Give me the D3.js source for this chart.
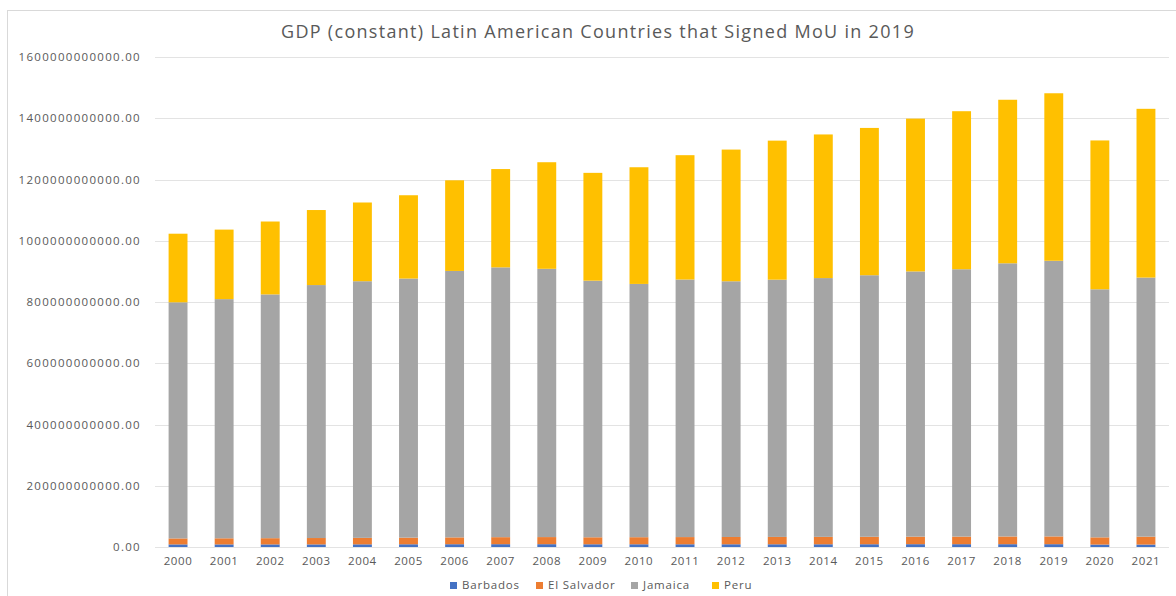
<!DOCTYPE html>
<html>
<head>
<meta charset="utf-8">
<script src="https://cdn.jsdelivr.net/npm/d3@7"></script>
<style>
  body { margin: 0; background: #fff; }
  svg text { font-family: "Open Sans", sans-serif; fill: #595959; }
</style>
</head>
<body>
<div id="chart"></div>
<script>
// data (billions, constant local currency)
var years = ["2000","2001","2002","2003","2004","2005","2006","2007","2008","2009","2010",
             "2011","2012","2013","2014","2015","2016","2017","2018","2019","2020","2021"]
var barbados   = [8.5, 8.5, 8.5, 8.5, 8.7, 8.9, 9.1, 9.2, 9.2, 8.9, 8.9, 8.9, 8.9, 8.9, 8.9, 9.0, 9.2, 9.2, 9.2, 9.2, 8.0, 8.0]
var elSalvador = [19.5, 19.9, 20.3, 20.8, 21.2, 21.7, 22.3, 22.9, 23.2, 22.8, 23.1, 23.5, 23.8, 24.0, 24.2, 24.4, 24.6, 24.8, 25.2, 25.4, 23.5, 25.8]
var jamaica    = [771, 781, 796, 826, 838, 846, 870, 881, 876, 838, 827, 841, 835, 840, 845, 854, 866, 873, 892, 900, 810, 846]
var peru       = [224, 227, 238, 245, 257, 272, 296, 321, 348, 352, 381, 406, 430, 454, 469, 481, 499, 516, 534, 547, 486, 551]
var seriesNames = ["Barbados", "El Salvador", "Jamaica", "Peru"]
var colors = ["#4472C4", "#ED7D31", "#A5A5A5", "#FFC000"]
var yTicks = [0, 200, 400, 600, 800, 1000, 1200, 1400, 1600]

var W = 1176, H = 596
var margin = {left: 155, right: 1169, top: 57, bottom: 547}

var svg = d3.select("#chart").append("svg")
    .attr("width", W)
    .attr("height", H)

// chart frame
svg.append("rect")
    .attr("x", 7.5).attr("y", 10.5)
    .attr("width", 1180).attr("height", 600)
    .style("fill", "white")
    .style("stroke", "#d9d9d9")

// title
svg.append("text")
    .attr("x", 598)
    .attr("y", 38)
    .attr("text-anchor", "middle")
    .style("font-size", "18px")
    .style("letter-spacing", "1.3px")
    .text("GDP (constant) Latin American Countries that Signed MoU in 2019")

var x = d3.scaleBand()
    .domain(years)
    .range([margin.left, margin.right])
    .paddingInner(0.59)
    .paddingOuter(0.295)

var y = d3.scaleLinear()
    .domain([0, 1600])
    .range([margin.bottom, margin.top])

// gridlines
svg.append("g").selectAll("line")
    .data(yTicks)
    .enter().append("line")
    .attr("x1", margin.left).attr("x2", margin.right)
    .attr("y1", d => Math.round(y(d)) + 0.5)
    .attr("y2", d => Math.round(y(d)) + 0.5)
    .style("stroke", "#e3e3e3")
    .style("stroke-width", 1)

// y labels
svg.append("g").selectAll("text")
    .data(yTicks)
    .enter().append("text")
    .attr("x", 141)
    .attr("y", d => y(d) + 4)
    .attr("text-anchor", "end")
    .style("font-size", "11.5px")
    .style("letter-spacing", "1.3px")
    .text(d => d3.format(".2f")(d * 1e9))

// stack
var rows = years.map(function(yr, i) {
    return {year: yr, "Barbados": barbados[i], "El Salvador": elSalvador[i], "Jamaica": jamaica[i], "Peru": peru[i]}
})
var stacked = d3.stack().keys(seriesNames)(rows)

svg.append("g").selectAll("g")
    .data(stacked)
    .enter().append("g")
    .style("fill", (d, i) => colors[i])
    .selectAll("rect")
    .data(d => d)
    .enter().append("rect")
    .attr("x", d => x(d.data.year))
    .attr("width", x.bandwidth())
    .attr("y", d => y(d[1]))
    .attr("height", d => y(d[0]) - y(d[1]))

// x labels
svg.append("g").selectAll("text")
    .data(years)
    .enter().append("text")
    .attr("x", d => x(d) + x.bandwidth() / 2)
    .attr("y", 565)
    .attr("text-anchor", "middle")
    .style("font-size", "11.5px")
    .style("letter-spacing", "0.6px")
    .text(d => d)

// legend
var legX = [450, 536, 631, 712]
var legend = svg.append("g")
seriesNames.forEach(function(s, i) {
    legend.append("rect")
        .attr("x", legX[i]).attr("y", 582)
        .attr("width", 7).attr("height", 7)
        .style("fill", colors[i])
    legend.append("text")
        .attr("x", legX[i] + 12)
        .attr("y", 589)
        .style("font-size", "11.5px")
        .style("letter-spacing", "0.8px")
        .text(s)
})
</script>
</body>
</html>
